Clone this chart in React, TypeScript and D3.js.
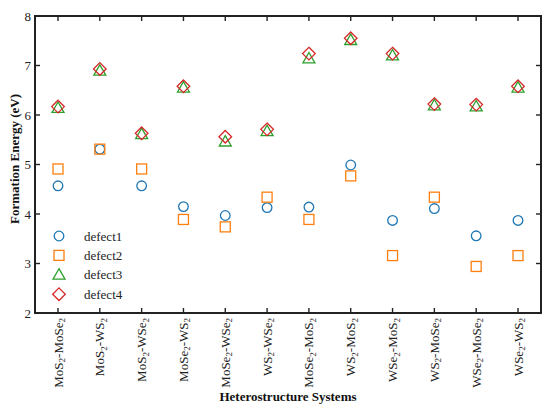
import React from "react";
import * as d3 from "d3";

const categories: [string, string, string, string][] = [
  ["MoS", "2", "-MoSe", "2"],
  ["MoS", "2", "-WS", "2"],
  ["MoS", "2", "-WSe", "2"],
  ["MoSe", "2", "-WS", "2"],
  ["MoSe", "2", "-WSe", "2"],
  ["WS", "2", "-WSe", "2"],
  ["MoSe", "2", "-MoS", "2"],
  ["WS", "2", "-MoS", "2"],
  ["WSe", "2", "-MoS", "2"],
  ["WS", "2", "-MoSe", "2"],
  ["WSe", "2", "-MoSe", "2"],
  ["WSe", "2", "-WS", "2"],
];

const defect1 = [4.57, 5.31, 4.57, 4.15, 3.97, 4.13, 4.14, 4.99, 3.87, 4.11, 3.56, 3.87];
const defect2 = [4.91, 5.31, 4.91, 3.89, 3.74, 4.34, 3.89, 4.77, 3.16, 4.34, 2.94, 3.16];
const defect3 = [6.14, 6.89, 5.61, 6.55, 5.46, 5.67, 7.14, 7.51, 7.2, 6.19, 6.17, 6.55];
const defect4 = [6.17, 6.93, 5.63, 6.58, 5.56, 5.71, 7.24, 7.55, 7.24, 6.22, 6.21, 6.58];

const yTicks = [2, 3, 4, 5, 6, 7, 8];
const seriesNames = ["defect1", "defect2", "defect3", "defect4"];
const seriesColors = ["#1f77b4", "#ff7f0e", "#2ca02c", "#d62728"];

const W = 550;
const H = 412;
const L = 35, R = 541, T = 16, B = 313;
const FONT = "Liberation Serif, DejaVu Serif, serif";

function Marker({ kind, cx, cy, color }: { kind: number; cx: number; cy: number; color: string }) {
  const sw = 1.3;
  if (kind === 0) return <circle cx={cx} cy={cy} r={4.8} fill="none" stroke={color} strokeWidth={sw} />;
  if (kind === 1) return <rect x={cx - 5} y={cy - 5} width={10} height={10} fill="none" stroke={color} strokeWidth={sw} />;
  if (kind === 2) {
    const s = d3.symbol(d3.symbolTriangle, 62)();
    return <path d={s as string} transform={`translate(${cx},${cy + 0.8})`} fill="none" stroke={color} strokeWidth={sw} />;
  }
  return (
    <path
      d={`M${cx},${cy - 6.3}L${cx + 6.3},${cy}L${cx},${cy + 6.3}L${cx - 6.3},${cy}Z`}
      fill="none"
      stroke={color}
      strokeWidth={sw}
    />
  );
}

export default function App() {
  const x = d3.scaleLinear().domain([0.45, categories.length + 0.55]).range([L, R]);
  const y = d3.scaleLinear().domain([2, 8]).range([B, T]);
  const series = [defect1, defect2, defect3, defect4];
  const axisColor = "#222";
  const tickLen = 5;

  return (
    <svg width={W} height={H} style={{ display: "block", position: "absolute", left: 0, top: 0, fontFamily: FONT }}>
      <rect width={W} height={H} fill="#fff" />
      {series.map((vals, si) =>
        vals.map((v, i) => (
          <Marker key={`${si}-${i}`} kind={si} cx={x(i + 1)} cy={y(v)} color={seriesColors[si]} />
        ))
      )}
      <rect x={L} y={T} width={R - L} height={B - T} fill="none" stroke={axisColor} strokeWidth={2} />
      {categories.map((_, i) => (
        <g key={`xt${i}`} stroke={axisColor} strokeWidth={1.4}>
          <line x1={x(i + 1)} x2={x(i + 1)} y1={B} y2={B - tickLen} />
          <line x1={x(i + 1)} x2={x(i + 1)} y1={T} y2={T + tickLen} />
        </g>
      ))}
      {yTicks.map((t) => (
        <g key={`yt${t}`}>
          <line x1={L} x2={L + tickLen} y1={y(t)} y2={y(t)} stroke={axisColor} strokeWidth={1.4} />
          <line x1={R} x2={R - tickLen} y1={y(t)} y2={y(t)} stroke={axisColor} strokeWidth={1.4} />
          <text x={L - 4} y={y(t) + 4.5} textAnchor="end" fontSize={13} fill="#222">
            {t}
          </text>
        </g>
      ))}
      {categories.map((c, i) => (
        <text
          key={`xl${i}`}
          transform={`translate(${x(i + 1) + 4.5},${B + 5}) rotate(-90)`}
          textAnchor="end"
          fontSize={13}
          fill="#222"
        >
          {c[0]}
          <tspan fontSize={9} dy={2.5}>{c[1]}</tspan>
          <tspan dy={-2.5}>{c[2]}</tspan>
          <tspan fontSize={9} dy={2.5}>{c[3]}</tspan>
        </text>
      ))}
      <text x={(L + R) / 2} y={401} textAnchor="middle" fontSize={13} fontWeight="bold" fill="#111">
        Heterostructure Systems
      </text>
      <text transform={`translate(19,159) rotate(-90)`} textAnchor="middle" fontSize={13} fontWeight="bold" fill="#111">
        Formation Energy (eV)
      </text>
      {seriesNames.map((n, si) => {
        const cy = 236 + si * 19.4;
        return (
          <g key={`lg${si}`}>
            <Marker kind={si} cx={59} cy={cy} color={seriesColors[si]} />
            <text x={84} y={cy + 4.5} fontSize={13} fill="#222">
              {n}
            </text>
          </g>
        );
      })}
    </svg>
  );
}
